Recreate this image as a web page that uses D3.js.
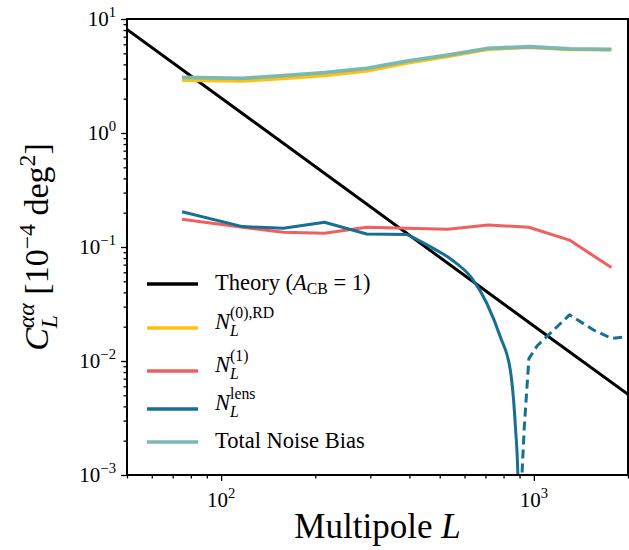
<!DOCTYPE html>
<html>
<head>
<meta charset="utf-8">
<script src="https://cdn.jsdelivr.net/npm/d3@7"></script>
<style>
  body { margin: 0; background: #fff; }
  text { font-family: "Liberation Serif", "DejaVu Serif", serif; fill: #000; white-space: pre; }
</style>
</head>
<body>
<div id="viz"></div>
<script>
// binned multipoles
const binL = [75, 117, 158, 214, 292, 393, 530, 714, 964, 1300, 1770];
const totalBias = [3.08, 3.02, 3.18, 3.38, 3.69, 4.28, 4.83, 5.53, 5.71, 5.46, 5.42];
const n0RD = [2.90, 2.86, 3.00, 3.20, 3.50, 4.10, 4.68, 5.42, 5.64, 5.40, 5.37];
const n1 = [0.175, 0.149, 0.135, 0.132, 0.149, 0.146, 0.143, 0.156, 0.149, 0.115, 0.066];

// lensing bias: positive part (solid, low-L bins then the smooth drop) and |negative| part (dashed)
const lensLowL = [75, 117, 158, 214, 292, 393];
const lensLow = [0.204, 0.151, 0.146, 0.165, 0.130, 0.129];
const lensDropL = [393, 466, 548, 634, 707, 781, 841, 873, 889, 893];
const lensDrop = [0.129, 0.1007, 0.0769, 0.0531, 0.0321, 0.0163, 0.0083, 0.00265, 0.001, 0.0006];
const lensNegL = [897, 916, 932, 964, 1025, 1300, 1552, 1770, 2000];
const lensNeg = [0.0006, 0.001, 0.00265, 0.0105, 0.0136, 0.0254, 0.0187, 0.0158, 0.0163];

// theory, A_CB = 1
const theoryL = [50, 100, 1000, 2000];
const theory = [8.1, 2.03, 0.0203, 0.0051];

const xMajor = [100, 1000];
const xMajorExp = ["2", "3"];
const xMinor = [50, 60, 70, 80, 90, 200, 300, 400, 500, 600, 700, 800, 900, 2000];
const yMajor = [1e-3, 1e-2, 1e-1, 1, 10];
const yMajorExp = ["\u22123", "\u22122", "\u22121", "0", "1"];
const yMinor = [];
[1e-3, 1e-2, 1e-1, 1].forEach(d => { for (let k = 2; k <= 9; k++) yMinor.push(d * k); });

const width = 629, height = 550;
const mLeft = 127, mRight = 628, mTop = 19, mBottom = 475;

const svg = d3.select("#viz").append("svg")
    .attr("width", width).attr("height", height);

const x = d3.scaleLog().domain([50, 2000]).range([mLeft, mRight]);
const y = d3.scaleLog().domain([1e-3, 10]).range([mBottom, mTop]);

svg.append("clipPath").attr("id", "plot")
    .append("rect").attr("x", mLeft).attr("y", mTop)
    .attr("width", mRight - mLeft).attr("height", mBottom - mTop);

// rich text: pieces placed one after another, sup/sub smaller
function rich(g, x0, y0, pieces, fs) {
    let cx = x0, stackX = null, stackW = 0;
    pieces.forEach(p => {
        const pos = p.pos || "base";
        const size = pos === "base" ? fs : fs * 0.7;
        const dy = p.dy !== undefined ? p.dy : (pos === "sup" ? -fs * 0.45 : pos === "sub" ? fs * 0.3 : 0);
        const t = g.append("text")
            .attr("x", stackX !== null ? stackX : cx)
            .attr("y", y0 + dy)
            .attr("font-size", size)
            .attr("font-style", p.i ? "italic" : "normal")
            .text(p.t);
        const w = t.node().getComputedTextLength();
        if (p.stack) { stackX = cx; stackW = w; }
        else if (stackX !== null) { cx = stackX + Math.max(stackW, w); stackX = null; }
        else cx += w;
    });
    return cx - x0;
}

// axes
const gx = svg.append("g").attr("transform", `translate(0,${mBottom})`);
gx.call(d3.axisBottom(x).tickValues(xMajor).tickSize(6).tickFormat(""));
gx.append("g").call(d3.axisBottom(x).tickValues(xMinor).tickSize(3.5).tickFormat(""));
gx.selectAll(".domain").remove();
gx.selectAll("line").attr("stroke", "#000").attr("stroke-width", 1.3);

const gy = svg.append("g").attr("transform", `translate(${mLeft},0)`);
gy.call(d3.axisLeft(y).tickValues(yMajor).tickSize(6).tickFormat(""));
gy.append("g").call(d3.axisLeft(y).tickValues(yMinor).tickSize(3.5).tickFormat(""));
gy.selectAll(".domain").remove();
gy.selectAll("line").attr("stroke", "#000").attr("stroke-width", 1.3);

// tick labels
xMajor.forEach((v, i) => {
    const g = svg.append("g");
    const w = rich(g, 0, 0, [{ t: "10" }, { t: xMajorExp[i], pos: "sup", dy: -9 }], 21);
    g.attr("transform", `translate(${x(v) - w / 2},${mBottom + 32})`);
});
yMajor.forEach((v, i) => {
    const g = svg.append("g");
    const w = rich(g, 0, 0, [{ t: "10" }, { t: yMajorExp[i], pos: "sup", dy: -9 }], 21);
    g.attr("transform", `translate(${mLeft - 11 - w},${y(v) + 7})`);
});

// lines
const line = d3.line().x(d => x(d[0])).y(d => y(d[1]));
const smooth = d3.line().x(d => x(d[0])).y(d => y(d[1])).curve(d3.curveMonotoneX);
const plot = svg.append("g").attr("clip-path", "url(#plot)");

function series(Ls, vals, color, lw, dash, gen) {
    const p = plot.append("path")
        .attr("d", (gen || line)(Ls.map((l, i) => [l, vals[i]])))
        .attr("fill", "none")
        .attr("stroke", color)
        .attr("stroke-width", lw)
        .attr("stroke-linejoin", "round");
    if (dash) p.attr("stroke-dasharray", dash);
}

const cBlack = "#000000", cYellow = "#FFC20E", cRed = "#EF6161", cBlue = "#176F93", cTeal = "#7BB8B0";

series(theoryL, theory, cBlack, 3);
series(binL, n0RD, cYellow, 3.5);
series(binL, n1, cRed, 3);
series(lensLowL, lensLow, cBlue, 3);
series(lensDropL, lensDrop, cBlue, 3, null, smooth);
series(lensNegL, lensNeg, cBlue, 3, "9,5");
series(binL, totalBias, cTeal, 3.8);

// frame
svg.append("rect")
    .attr("x", mLeft).attr("y", mTop)
    .attr("width", mRight - mLeft).attr("height", mBottom - mTop)
    .attr("fill", "none").attr("stroke", "#000").attr("stroke-width", 2);

// legend
const legend = svg.append("g");
const rows = [
    { c: cBlack, y: 284, by: 290, p: [{ t: "Theory (" }, { t: "A", i: true }, { t: "CB", pos: "sub", dy: 4 }, { t: " = 1)" }] },
    { c: cYellow, y: 328, by: 329, p: [{ t: "N", i: true }, { t: "(0),RD", pos: "sup", dy: -11, stack: true }, { t: "L", i: true, pos: "sub", dy: 7 }] },
    { c: cRed, y: 371, by: 372, p: [{ t: "N", i: true }, { t: "(1)", pos: "sup", dy: -11, stack: true }, { t: "L", i: true, pos: "sub", dy: 7 }] },
    { c: cBlue, y: 409, by: 410, p: [{ t: "N", i: true }, { t: "lens", pos: "sup", dy: -11, stack: true }, { t: "L", i: true, pos: "sub", dy: 7 }] },
    { c: cTeal, y: 442, by: 448, p: [{ t: "Total Noise Bias" }] }
];
rows.forEach(r => {
    legend.append("line")
        .attr("x1", 147).attr("x2", 198)
        .attr("y1", r.y).attr("y2", r.y)
        .attr("stroke", r.c).attr("stroke-width", 3.5);
    rich(legend, 215, r.by, r.p, 22.5);
});

// axis labels
const xl = svg.append("g");
const xw = rich(xl, 0, 0, [{ t: "Multipole " }, { t: "L", i: true }], 35);
xl.attr("transform", `translate(${(mLeft + mRight) / 2 - xw / 2},${538})`);

const yl = svg.append("g");
const yw = rich(yl, 0, 0, [
    { t: "C", i: true },
    { t: "\u03b1\u03b1", i: true, pos: "sup", dy: -14, stack: true },
    { t: "L", i: true, pos: "sub", dy: 9 },
    { t: " [10" },
    { t: "\u22124", pos: "sup", dy: -13 },
    { t: " deg" },
    { t: "2", pos: "sup", dy: -13 },
    { t: "]" }
], 34);
yl.attr("transform", `translate(48,${(mTop + mBottom) / 2 + yw / 2}) rotate(-90)`);
</script>
</body>
</html>
